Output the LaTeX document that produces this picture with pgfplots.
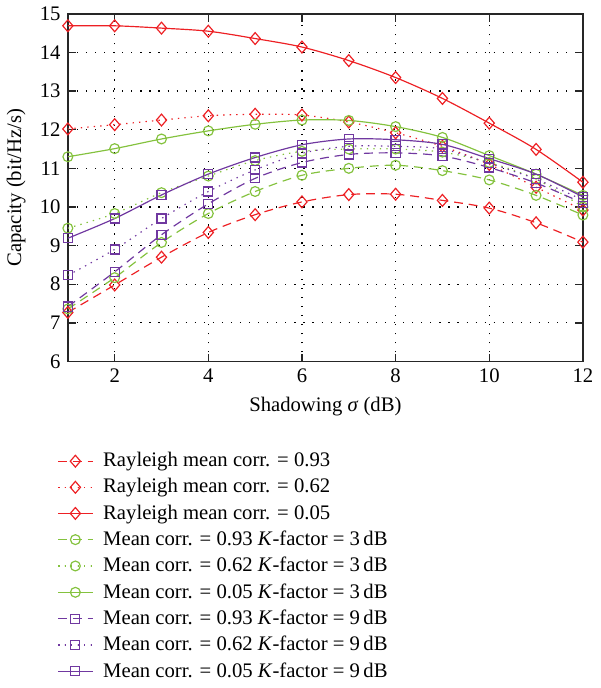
\documentclass[border=0pt]{standalone}
\usepackage{fontspec}
\setmainfont{Liberation Serif}
\usepackage{pgfplots}
\pgfplotsset{compat=1.18}
\definecolor{cR}{RGB}{237,32,36}
\definecolor{cG}{RGB}{132,194,62}
\definecolor{cP}{RGB}{112,56,160}
\pgfplotstableread{
x R093 R062 R005 G093 G062 G005 P093 P062 P005
1 7.27 12.02 14.69 7.36 9.45 11.30 7.42 8.23 9.19
2 7.98 12.13 14.69 8.17 9.83 11.51 8.32 8.90 9.70
3 8.70 12.25 14.63 9.08 10.37 11.76 9.28 9.70 10.31
4 9.34 12.36 14.55 9.83 10.80 11.97 10.08 10.40 10.85
5 9.80 12.40 14.36 10.40 11.20 12.14 10.74 10.96 11.28
6 10.13 12.38 14.14 10.82 11.44 12.25 11.15 11.39 11.61
7 10.32 12.20 13.79 11.00 11.50 12.24 11.36 11.57 11.76
8 10.33 11.92 13.35 11.08 11.50 12.08 11.40 11.57 11.74
9 10.17 11.57 12.81 10.94 11.42 11.80 11.32 11.50 11.62
10 9.97 11.10 12.17 10.70 11.15 11.33 11.02 11.13 11.25
11 9.59 10.51 11.49 10.30 10.72 10.85 10.62 10.72 10.85
12 9.09 9.92 10.64 9.79 10.00 10.30 10.10 10.18 10.26
}\data
\begin{document}
\fontsize{10.5}{12.6}\selectfont
\begin{tikzpicture}
\begin{axis}[
  scale only axis, width=261.5pt, height=176.5pt,
  xmin=1, xmax=12, ymin=6, ymax=15,
  xtick={2,4,...,12}, ytick={6,...,15},
  tick align=inside, major tick length=4pt,
  grid=major,
  grid style={black, dash pattern=on 0.6pt off 4pt, line width=0.6pt},
  axis line style={line width=0.7pt, black!85},
  tick style={black!85, line width=0.7pt},
  ticklabel style={font=\fontsize{10.5}{12}\selectfont},
  /pgf/number format/assume math mode=true,
  xlabel={Shadowing \textit{σ} (dB)},
  ylabel={Capacity (bit/Hz/s)},
  label style={font=\fontsize{10.5}{12}\selectfont},
  legend cell align=left,
  legend image code/.code={\draw[mark repeat=2, mark phase=2, #1] plot coordinates {(0cm,0cm) (0.31cm,0cm) (0.62cm,0cm)};},
  legend style={draw=none, fill=none, at={(axis description cs:0,0)}, anchor=north west,
    xshift=-8.5pt, yshift=-42pt, font=\fontsize{10.5}{12}\selectfont, row sep=0.4pt,
    /tikz/every odd column/.append style={column sep=3pt}},
  every axis plot/.append style={line width=0.6pt, smooth, tension=0.5},
  dsh/.style={dash pattern=on 4.5pt off 3pt},
  dtt/.style={dash pattern=on 0.7pt off 2.6pt},
  mD/.style={mark=diamond, mark size=3pt, mark options={solid, xscale=1.15}},
  mC/.style={mark=o, mark size=2.5pt, mark options={solid}},
  mS/.style={mark=square, mark size=2.3pt, mark options={solid}},
]
\addplot[cR, dsh, mD] table[x=x, y=R093] {\data};
\addlegendentry{Rayleigh mean corr. = 0.93}
\addplot[cR, dtt, mD] table[x=x, y=R062] {\data};
\addlegendentry{Rayleigh mean corr. = 0.62}
\addplot[cR, mD] table[x=x, y=R005] {\data};
\addlegendentry{Rayleigh mean corr. = 0.05}
\addplot[cG, dsh, mC] table[x=x, y=G093] {\data};
\addlegendentry{Mean corr. = 0.93 \textit{K}-factor = 3\,dB}
\addplot[cG, dtt, mC] table[x=x, y=G062] {\data};
\addlegendentry{Mean corr. = 0.62 \textit{K}-factor = 3\,dB}
\addplot[cG, mC] table[x=x, y=G005] {\data};
\addlegendentry{Mean corr. = 0.05 \textit{K}-factor = 3\,dB}
\addplot[cP, dsh, mS] table[x=x, y=P093] {\data};
\addlegendentry{Mean corr. = 0.93 \textit{K}-factor = 9\,dB}
\addplot[cP, dtt, mS] table[x=x, y=P062] {\data};
\addlegendentry{Mean corr. = 0.62 \textit{K}-factor = 9\,dB}
\addplot[cP, mS] table[x=x, y=P005] {\data};
\addlegendentry{Mean corr. = 0.05 \textit{K}-factor = 9\,dB}
\end{axis}
\end{tikzpicture}
\end{document}
